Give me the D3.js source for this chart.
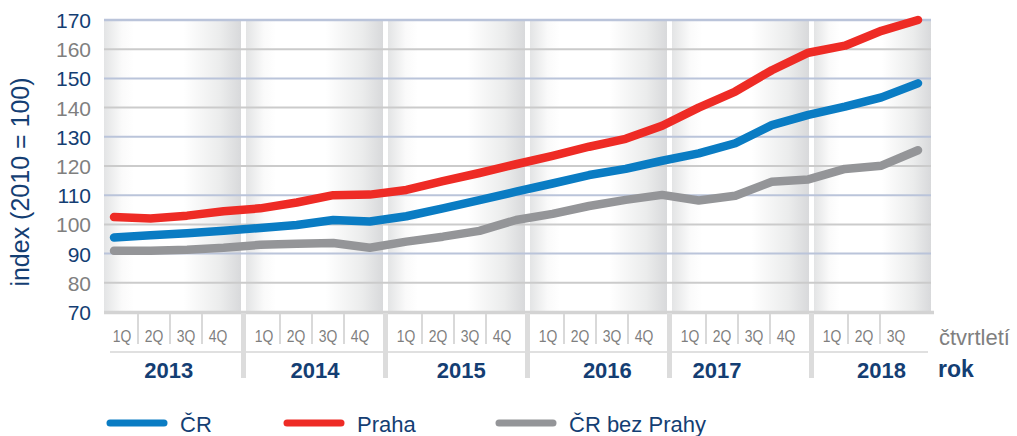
<!DOCTYPE html>
<html>
<head>
<meta charset="utf-8">
<script src="https://cdn.jsdelivr.net/npm/d3@7"></script>
<style>
  html, body { margin: 0; padding: 0; background: #fff; }
  svg { display: block; font-family: "Liberation Sans", Arial, sans-serif; }
</style>
</head>
<body>
<svg id="chart" width="1017" height="436"></svg>
<script>
// ---------- data ----------
const years = ["2013", "2014", "2015", "2016", "2017", "2018"];
const quarters = ["1Q", "2Q", "3Q", "4Q"];
const quartersPerYear = [4, 4, 4, 4, 4, 3];
const yTicks = [70, 80, 90, 100, 110, 120, 130, 140, 150, 160, 170];

const seriesNames = ["ČR", "Praha", "ČR bez Prahy"];
const cr = [95.5, 96.3, 97.0, 97.8, 98.8, 99.8, 101.5, 101.0, 102.8, 105.5, 108.3, 111.2,
            114.0, 116.9, 119.0, 121.8, 124.3, 127.8, 134.0, 137.5, 140.3, 143.5, 148.3];
const praha = [102.5, 102.0, 103.0, 104.5, 105.5, 107.5, 110.0, 110.2, 111.8, 114.8, 117.6, 120.6,
               123.5, 126.6, 129.3, 133.8, 140.0, 145.5, 152.8, 158.8, 161.2, 166.3, 170.0];
const crBezPrahy = [91.0, 91.0, 91.3, 92.0, 93.0, 93.4, 93.6, 92.0, 94.1, 95.8, 97.8, 101.5,
                    103.6, 106.3, 108.4, 110.1, 108.2, 109.8, 114.6, 115.4, 119.0, 120.1, 125.4];

const axisTitle = "index (2010 = 100)";
const quarterTitle = "čtvrtletí";
const yearTitle = "rok";

// ---------- styles ----------
const DARK = "#143e73";
const GREY_TXT = "#7f7f7f";
const colors = ["#0a7cc3", "#ee2b25", "#949598"];
const FONT = '"Liberation Sans", Arial, sans-serif';

// ---------- layout ----------
const plotLeft = 104, plotRight = 931, plotTop = 20, plotBottom = 312;
const svg = d3.select("#chart");

// category index list
const cats = [];
const catYear = [];
years.forEach((yr, yi) => {
  for (let q = 0; q < quartersPerYear[yi]; q++) { cats.push(yr + "-" + quarters[q]); catYear.push(yr); }
});

const x = d3.scalePoint().domain(cats).range([114, 918]);
const y = d3.scaleLinear().domain([70, 170]).range([plotBottom, plotTop]);

const yearBand = d3.scaleBand().domain(years).range([plotLeft, plotLeft + 142 * years.length]);
const qBand = d3.scaleBand().domain(quarters).range([2, 130]);
const gap = 5;

// gradient for panels
const defs = svg.append("defs");
const grad = defs.append("linearGradient").attr("id", "panelGrad")
  .attr("x1", "0%").attr("x2", "100%").attr("y1", "0%").attr("y2", "0%");
[[0, "#e3e4e5"], [0.13, "#fafafa"], [0.22, "#ffffff"], [0.58, "#ffffff"], [0.85, "#ebecec"], [1, "#d8d9db"]]
  .forEach(([o, c]) => grad.append("stop").attr("offset", o).attr("stop-color", c));

// panels
svg.append("g").selectAll("rect").data(years).join("rect")
  .attr("x", d => yearBand(d))
  .attr("y", plotTop)
  .attr("width", d => Math.min(yearBand(d) + yearBand.bandwidth() - gap, plotRight) - yearBand(d))
  .attr("height", plotBottom - plotTop)
  .attr("fill", "url(#panelGrad)");

// gridlines
const isDark = v => (v / 10) % 2 === 1;
svg.append("g").selectAll("line").data(yTicks.filter(v => v > 70)).join("line")
  .attr("x1", plotLeft).attr("x2", plotRight)
  .attr("y1", d => y(d)).attr("y2", d => y(d))
  .attr("stroke", d => isDark(d) ? "#bac4da" : "#cbcbcb")
  .attr("stroke-width", d => d === 170 ? 2.5 : 2);

// base axis line
svg.append("line")
  .attr("x1", plotLeft).attr("x2", plotRight + 3)
  .attr("y1", y(70) + 0.5).attr("y2", y(70) + 0.5)
  .attr("stroke", "#d3d3d3").attr("stroke-width", 3.5);

// y axis labels
const yAxis = d3.axisLeft(y).tickValues(yTicks).tickSize(0).tickPadding(0).tickFormat(d3.format("d"));
const gy = svg.append("g").attr("transform", "translate(91,0)").call(yAxis);
gy.select(".domain").remove();
gy.selectAll("text")
  .attr("font-family", FONT).attr("font-size", 21)
  .attr("fill", d => isDark(d) ? DARK : GREY_TXT)
  .attr("dy", "0.36em");

// axis title
svg.append("text")
  .attr("transform", `translate(29,${(plotTop + plotBottom) / 2 + 16}) rotate(-90)`)
  .attr("text-anchor", "middle")
  .attr("font-family", FONT).attr("font-size", 25).attr("fill", DARK)
  .text(axisTitle);

// quarter separators + labels
const qg = svg.append("g");
years.forEach((yr, yi) => {
  const x0 = yearBand(yr);
  const qs = quarters.slice(0, quartersPerYear[yi]);
  qs.forEach((q, qi) => {
    const cx = x0 + qBand(q) + qBand.bandwidth() / 2;
    qg.append("text")
      .attr("transform", `translate(${cx},342) scale(0.82,1)`)
      .attr("text-anchor", "middle")
      .attr("font-family", FONT).attr("font-size", 17).attr("fill", GREY_TXT)
      .text(q);
    if (qi > 0) {
      const sx = x0 + qBand(q);
      qg.append("line").attr("x1", sx).attr("x2", sx).attr("y1", 314).attr("y2", 344)
        .attr("stroke", "#d9d9d9").attr("stroke-width", 2);
    }
  });
});

// horizontal separator under quarter labels
svg.append("line").attr("x1", 110).attr("x2", 928).attr("y1", 352).attr("y2", 352)
  .attr("stroke", "#d6d6d6").attr("stroke-width", 1.5);

// year separators
svg.append("g").selectAll("line").data(years.slice(1)).join("line")
  .attr("x1", d => yearBand(d) - gap / 2).attr("x2", d => yearBand(d) - gap / 2)
  .attr("y1", 313).attr("y2", 378)
  .attr("stroke", "#dcdcdc").attr("stroke-width", 5);

// year labels: centred under the year's data points (2017 label sits under its first half-year)
svg.append("g").selectAll("text").data(years).join("text")
  .attr("x", d => {
    let xs = cats.filter((c, i) => catYear[i] === d).map(c => x(c));
    if (d === "2017") xs = xs.slice(0, 2);
    return d3.mean(xs);
  })
  .attr("y", 378)
  .attr("text-anchor", "middle")
  .attr("font-family", FONT).attr("font-size", 22).attr("font-weight", "bold").attr("fill", DARK)
  .text(d => d);

// side titles
svg.append("text").attr("x", 939).attr("y", 345)
  .attr("font-family", FONT).attr("font-size", 22).attr("fill", GREY_TXT).text(quarterTitle);
svg.append("text").attr("x", 938).attr("y", 377)
  .attr("font-family", FONT).attr("font-size", 23).attr("font-weight", "bold").attr("fill", DARK).text(yearTitle);

// lines
const seriesData = [cr, praha, crBezPrahy];
const line = d3.line().x((d, i) => x(cats[i])).y(d => y(d));
const drawOrder = [2, 0, 1];
svg.append("g").selectAll("path").data(drawOrder).join("path")
  .attr("d", k => line(seriesData[k]))
  .attr("fill", "none")
  .attr("stroke", k => colors[k])
  .attr("stroke-width", 8.5)
  .attr("stroke-linecap", "round")
  .attr("stroke-linejoin", "round");

// legend
const legendX = [110, 287, 499];
const lg = svg.append("g").selectAll("g").data(seriesNames).join("g")
  .attr("transform", (d, i) => `translate(${legendX[i]},423)`);
lg.append("line").attr("x1", 0).attr("x2", 54).attr("y1", 0).attr("y2", 0)
  .attr("stroke", (d, i) => colors[i]).attr("stroke-width", 7).attr("stroke-linecap", "round");
lg.append("text").attr("x", 70).attr("y", 8.5)
  .attr("font-family", FONT).attr("font-size", 22).attr("fill", DARK)
  .text(d => d);
</script>
</body>
</html>
